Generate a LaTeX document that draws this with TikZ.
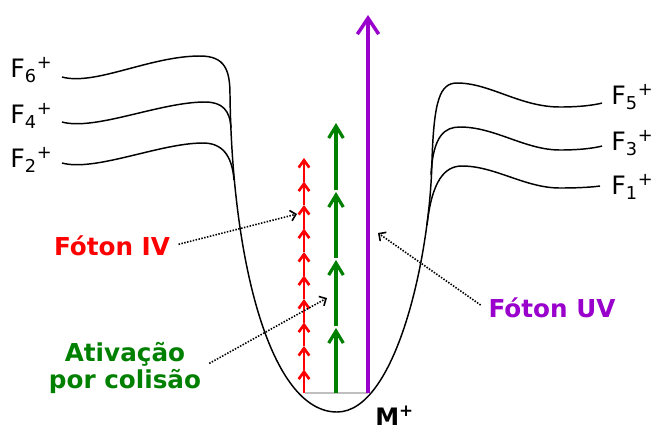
\documentclass[tikz,border=0pt]{standalone}
\usepackage{fontspec}
\setmainfont{DejaVu Sans}
\usetikzlibrary{arrows.meta}
\definecolor{ivred}{RGB}{255,0,0}
\definecolor{cidgreen}{RGB}{0,128,0}
\definecolor{uvpurple}{RGB}{153,0,204}

\begin{document}
\begin{tikzpicture}[
    x=0.75pt, y=-0.75pt,
    curve/.style={line width=1.1pt},
    level/.style={anchor=base west, inner sep=0pt, font=\fontsize{19}{22}\selectfont},
    tag/.style={font=\bfseries\fontsize{18.5}{20}\selectfont, align=center},
    pointer/.style={dash pattern=on 1.1pt off 1.1pt, line width=1.2pt, shorten <=3pt,
        -{Straight Barb[length=4pt,width=8pt]}},
    irstep/.style={ivred, line width=2pt, -{Straight Barb[length=5.5pt,width=8pt]}},
    cidstep/.style={cidgreen, line width=2.4pt, -{Straight Barb[length=9pt,width=11pt]}},
    uvbeam/.style={uvpurple, line width=2.6pt, -{Straight Barb[length=12pt,width=16pt]}}
]
\useasboundingbox (0,0) rectangle (653,430);

% Potential wells
\draw[curve] (62,77) .. controls (95,86) and (150,56) .. (200,56)
    .. controls (225,56) and (230,70) .. (230,95)
    .. controls (232,260) and (270,412) .. (337,412)
    .. controls (395,412) and (430,260) .. (432,160)
    .. controls (434,100) and (440,83) .. (457,83)
    .. controls (490,83) and (520,107) .. (560,107)
    .. controls (580,107) and (595,105) .. (602,103);
\draw[curve] (62,122) .. controls (95,131) and (160,102) .. (205,102)
    .. controls (222,102) and (230,110) .. (231,128);
\draw[curve] (62,163) .. controls (95,172) and (160,143) .. (203,143)
    .. controls (222,143) and (232,155) .. (234,180);
\draw[curve] (431,175) .. controls (433,135) and (445,127) .. (460,127)
    .. controls (495,127) and (525,150) .. (560,150)
    .. controls (580,150) and (595,148) .. (602,146);
\draw[curve] (427,225) .. controls (432,180) and (445,166) .. (462,166)
    .. controls (495,166) and (525,188) .. (560,188)
    .. controls (580,188) and (593,187) .. (600,186);

% Fragment levels
\node[level] (f6) at (10,77) {F\textsubscript{6}\textsuperscript{+}};
\node[level] (f4) at (10,123) {F\textsubscript{4}\textsuperscript{+}};
\node[level] (f2) at (10,167) {F\textsubscript{2}\textsuperscript{+}};
\node[level] (f5) at (611,104) {F\textsubscript{5}\textsuperscript{+}};
\node[level] (f3) at (611,150) {F\textsubscript{3}\textsuperscript{+}};
\node[level] (f1) at (611,194) {F\textsubscript{1}\textsuperscript{+}};

% Ground level and excitations
\draw[black!25, line width=1.2pt] (305,393) -- (368,393);
\foreach \k in {0,...,9}
    \draw[irstep] (304,{393-23.5*\k}) -- (304,{393-23.5*(\k+1)});
\foreach \from/\to in {393/328, 326/260, 258/192, 190/123}
    \draw[cidstep] (336,\from) -- (336,\to);
\draw[uvbeam] (368,393) -- (368,15);

% Labels
\node[tag, text=ivred, anchor=base] (fiv) at (112,255) {Fóton IV};
\node[tag, text=cidgreen] (act) at (125,368) {Ativação\\por colisão};
\node[tag, text=uvpurple, anchor=base] (fuv) at (552,317) {Fóton UV};
\node[anchor=base west, inner sep=0pt, font=\bfseries\fontsize{18}{20}\selectfont] (ion) at (375,425) {M\textsuperscript{+}};

\coordinate (fivtip) at (297,214);
\coordinate (acttip) at (327,298);
\coordinate (fuvtip) at (378,233);
\draw[pointer] (fiv.east) -- (fivtip);
\draw[pointer] ([yshift=2pt]act.east) -- (acttip);
\draw[pointer] (fuv.west) -- (fuvtip);

\end{tikzpicture}
\end{document}
